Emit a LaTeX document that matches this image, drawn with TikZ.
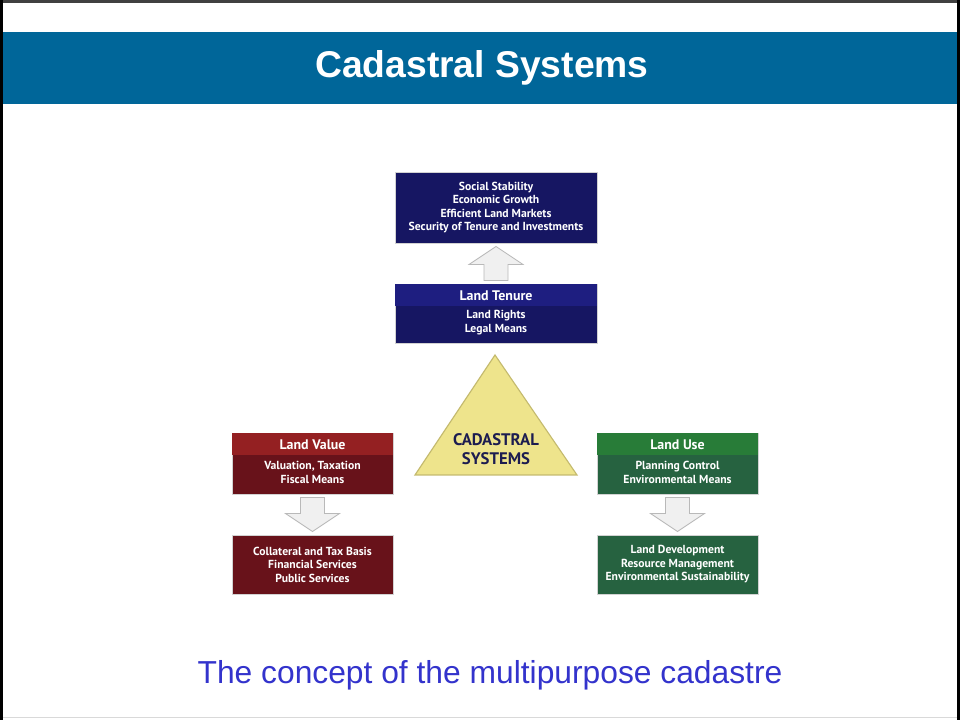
\documentclass[tikz,border=0pt]{standalone}
\usepackage{fontspec}
\setmainfont{Liberation Sans}
\newfontfamily\boxfont{PT Sans}
\usepackage{tikz}
\usetikzlibrary{positioning,calc}
\definecolor{titleblue}{RGB}{0,102,153}
\definecolor{captionblue}{RGB}{51,51,204}
\definecolor{navybody}{RGB}{22,22,98}
\definecolor{navyhead}{RGB}{30,30,128}
\definecolor{redbody}{RGB}{104,18,26}
\definecolor{redhead}{RGB}{148,32,34}
\definecolor{greenbody}{RGB}{38,98,64}
\definecolor{greenhead}{RGB}{40,124,56}
\definecolor{triyellow}{RGB}{238,228,140}
\definecolor{triedge}{RGB}{196,186,110}
\definecolor{cadtext}{RGB}{28,28,80}

\begin{document}
\begin{tikzpicture}[x=0.025cm, y=-0.025cm,
    box/.style={draw=gray!35, line width=0.4pt, text=white, inner sep=0pt,
      font=\boxfont\bfseries\fontsize{8.3}{9.6}\selectfont, align=center},
    widebox/.style={box, minimum width=5.05cm},
    smallbox/.style={box, minimum width=4.025cm},
    head/.style={draw=none, minimum height=0.55cm,
      font=\boxfont\bfseries\fontsize{9.9}{12}\selectfont},
    lines/.style={text=white, inner sep=0pt, align=center,
      font=\boxfont\bfseries\fontsize{8.3}{9.6}\selectfont},
    blockarrow/.pic={
      \draw[draw=gray!55, fill=gray!12, line width=0.6pt]
        (-12,-17) -- (12,-17) -- (12,-1) -- (27,-1) -- (0,17)
        -- (-27,-1) -- (-12,-1) -- cycle;
    }]
  \useasboundingbox (0,0) rectangle (960,720);

  % slide frame and title bar
  \fill[titleblue] (3,32) rectangle (957,104);
  \draw[gray!30, line width=1pt] (3,717.5) -- (957,717.5);
  \draw[black!75, line width=2.2pt] (0,1.5) -- (960,1.5);
  \draw[black, line width=2.4pt] (1.5,0) -- (1.5,720) (958.5,0) -- (958.5,720);
  \node[text=white, font=\bfseries\fontsize{26.5}{30}\selectfont] (title) at (482,68) {Cadastral Systems};

  % land tenure column
  \node[widebox, fill=navybody, minimum height=1.775cm] (goals) at (496,207.5)
    {Social Stability\\Economic Growth\\Efficient Land Markets\\Security of Tenure and Investments};
  \node[widebox, fill=navybody, minimum height=1.475cm] (tenure) at (496,313.5) {};
  \node[widebox, head, fill=navyhead, anchor=north] (tenureh) at ($(tenure.north)+(0,0.5)$) {Land Tenure};
  \node[lines] (tenuret) at (496,322.5) {Land Rights\\Legal Means};
  \pic[rotate=180] at ($(tenure.north)!0.5!(goals.south)$) {blockarrow};

  % the triangle
  \draw[triedge, fill=triyellow, line width=0.8pt] (495,355) -- (577,475) -- (415,475) -- cycle;
  \node[text=cadtext, align=center, font=\boxfont\bfseries\fontsize{11.9}{13.6}\selectfont] (cad) at (496,449) {CADASTRAL\\SYSTEMS};

  % land value column
  \node[smallbox, fill=redbody, minimum height=1.525cm] (value) at (312.5,463.5) {};
  \node[smallbox, head, fill=redhead, anchor=north] (valueh) at ($(value.north)+(0,0.5)$) {Land Value};
  \node[lines] (valuet) at (312.5,472.5) {Valuation, Taxation\\Fiscal Means};
  \node[smallbox, fill=redbody, minimum height=1.475cm] (finance) at (312.5,564.5)
    {Collateral and Tax Basis\\Financial Services\\Public Services};
  \pic at ($(value.south)!0.5!(finance.north)$) {blockarrow};

  % land use column
  \node[smallbox, fill=greenbody, minimum height=1.525cm] (use) at (677.5,463.5) {};
  \node[smallbox, head, fill=greenhead, anchor=north] (useh) at ($(use.north)+(0,0.5)$) {Land Use};
  \node[lines] (uset) at (677.5,472.5) {Planning Control\\Environmental Means};
  \node[smallbox, fill=greenbody, minimum height=1.475cm] (develop) at (677.5,564.5)
    {Land Development\\Resource Management\\Environmental Sustainability};
  \pic at ($(use.south)!0.5!(develop.north)$) {blockarrow};

  \node[text=captionblue, font=\fontsize{22.6}{27}\selectfont] (caption) at (490,675)
    {The concept of the multipurpose cadastre};
\end{tikzpicture}
\end{document}
